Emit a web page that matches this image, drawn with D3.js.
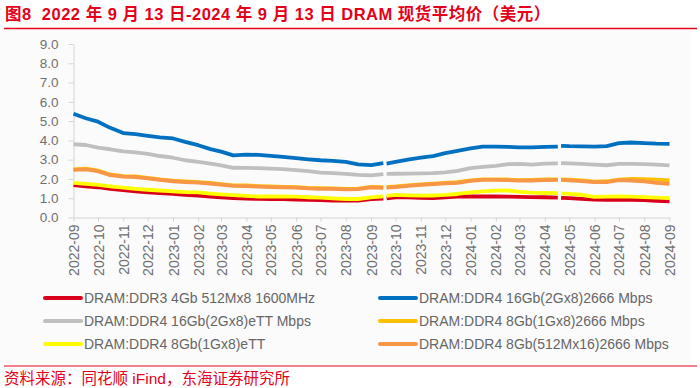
<!DOCTYPE html>
<html>
<head>
<meta charset="utf-8">
<script src="https://cdn.jsdelivr.net/npm/d3@7"></script>
<style>
  body { margin: 0; background: #fff; }
  svg { display: block; }
  .axis text { fill: #6f6f6f; font-family: "Liberation Sans", Arial, sans-serif; }
  .axis path, .axis line { stroke: #d4d4d4; }
</style>
</head>
<body>
<svg width="700" height="388"></svg>
<script>
// half-month samples; null = break in the source series
var dates = ["2022-09-13","2022-09-28","2022-10-13","2022-10-28","2022-11-13","2022-11-28","2022-12-13","2022-12-28",
  "2023-01-13","2023-01-28","2023-02-13","2023-02-28","2023-03-13","2023-03-28","2023-04-13","2023-04-28",
  "2023-05-13","2023-05-28","2023-06-13","2023-06-28","2023-07-13","2023-07-28","2023-08-13","2023-08-28",
  "2023-09-13","2023-09-28","2023-09-30","2023-10-02","2023-10-13","2023-10-28","2023-11-13","2023-11-28",
  "2023-12-13","2023-12-28","2024-01-13","2024-01-28","2024-02-13","2024-02-28","2024-03-13","2024-03-28",
  "2024-04-13","2024-04-29","2024-05-01","2024-05-03","2024-05-13","2024-05-28","2024-06-13","2024-06-28",
  "2024-07-13","2024-07-28","2024-08-13","2024-08-28","2024-09-13"];

var ddr3_4gb = [1.68,1.62,1.57,1.48,1.42,1.36,1.30,1.26,1.23,1.18,1.13,1.08,1.04,1.00,0.98,0.97,
  0.96,0.95,0.93,0.91,0.90,0.88,0.88,0.88,0.95,0.98,null,0.99,1.05,1.04,1.02,1.01,
  1.04,1.08,1.09,1.09,1.10,1.08,1.07,1.06,1.05,1.03,null,1.02,1.00,0.97,0.93,0.92,
  0.93,0.92,0.90,0.87,0.84];
var ddr4_16gb_2666 = [5.38,5.15,4.97,4.65,4.38,4.32,4.24,4.16,4.10,3.92,3.75,3.55,3.42,3.22,3.26,3.25,
  3.20,3.14,3.08,3.02,2.97,2.94,2.88,2.76,2.72,2.82,null,2.80,2.88,3.00,3.10,3.18,
  3.34,3.45,3.58,3.68,3.68,3.66,3.64,3.64,3.66,3.68,null,3.72,3.70,3.69,3.68,3.70,
  3.86,3.89,3.86,3.83,3.82];
var ddr4_16gb_ett = [3.80,3.76,3.62,3.54,3.43,3.38,3.30,3.19,3.10,2.97,2.88,2.80,2.70,2.58,2.57,2.56,
  2.54,2.51,2.46,2.40,2.33,2.30,2.26,2.21,2.18,2.25,null,2.26,2.27,2.28,2.29,2.30,
  2.34,2.42,2.56,2.63,2.68,2.77,2.78,2.74,2.79,2.81,null,2.82,2.81,2.78,2.74,2.71,
  2.78,2.78,2.77,2.74,2.70];
var ddr4_8gb_2666 = [2.50,2.53,2.43,2.23,2.15,2.13,2.06,1.98,1.91,1.87,1.84,1.79,1.73,1.67,1.66,1.63,
  1.61,1.59,1.58,1.54,1.52,1.51,1.49,1.50,1.59,1.57,null,1.58,1.61,1.67,1.72,1.76,
  1.80,1.83,1.93,1.98,1.98,1.97,1.94,1.95,1.97,1.98,null,1.98,1.96,1.92,1.86,1.88,
  1.97,2.00,1.99,1.96,1.93];
var ddr4_8gb_ett = [1.80,1.74,1.69,1.62,1.55,1.49,1.44,1.40,1.36,1.32,1.30,1.24,1.20,1.16,1.12,1.09,
  1.09,1.09,1.08,1.05,1.03,0.99,0.96,0.96,1.04,1.10,null,1.12,1.17,1.15,1.13,1.14,
  1.17,1.22,1.30,1.35,1.39,1.40,1.33,1.29,1.27,1.26,null,1.25,1.23,1.18,1.07,1.08,
  1.09,1.08,1.06,1.03,1.00];
var ddr4_8gb_512 = [2.47,2.50,2.40,2.20,2.12,2.10,2.03,1.95,1.88,1.84,1.81,1.76,1.70,1.64,1.63,1.60,
  1.58,1.56,1.55,1.51,1.49,1.48,1.46,1.47,1.56,1.54,null,1.55,1.58,1.64,1.69,1.73,
  1.77,1.80,1.90,1.95,1.95,1.94,1.91,1.92,1.94,1.95,null,1.95,1.93,1.89,1.83,1.84,
  1.94,1.92,1.87,1.80,1.74];

var seriesNames = ["DRAM:DDR3 4Gb 512Mx8 1600MHz","DRAM:DDR4 16Gb(2Gx8)2666 Mbps",
  "DRAM:DDR4 16Gb(2Gx8)eTT Mbps","DRAM:DDR4 8Gb(1Gx8)2666 Mbps",
  "DRAM:DDR4 8Gb(1Gx8)eTT","DRAM:DDR4 8Gb(512Mx16)2666 Mbps"];
var seriesValues = [ddr3_4gb, ddr4_16gb_2666, ddr4_16gb_ett, ddr4_8gb_2666, ddr4_8gb_ett, ddr4_8gb_512];
var seriesColors = ["#d9001b","#0070c0","#bfbfbf","#ffc000","#ffff00","#f79646"];

var tickMonths = ["2022-09","2022-10","2022-11","2022-12","2023-01","2023-02","2023-03","2023-04","2023-05",
  "2023-06","2023-07","2023-08","2023-09","2023-10","2023-11","2023-12","2024-01","2024-02","2024-03",
  "2024-04","2024-05","2024-06","2024-07","2024-08","2024-09"];
var yTicks = [0,1,2,3,4,5,6,7,8,9];

var svg = d3.select("svg");
var parseDay = d3.timeParse("%Y-%m-%d");
var days = dates.map(parseDay);
var tickDates = tickMonths.map(function(m) { return parseDay(m + "-13"); });

var x = d3.scaleTime().domain([days[0], days[days.length - 1]]).range([73.5, 669.5]);
var y = d3.scaleLinear().domain([0, 9]).range([217.5, 44]);

svg.append("rect").attr("x", 0).attr("y", 30).attr("width", 691).attr("height", 333).attr("fill", "#fbfbfb");

// title
svg.append("text")
  .attr("x", 5).attr("y", 20)
  .attr("fill", "#e5001a")
  .style("font-family", "'Liberation Sans', 'Noto Sans CJK SC', sans-serif")
  .style("font-weight", "bold")
  .style("font-size", "16.5px")
  .style("letter-spacing", "0.5px")
  .style("white-space", "pre")
  .text("图8  2022 年 9 月 13 日-2024 年 9 月 13 日 DRAM 现货平均价（美元）");
svg.append("line").attr("x1", 4).attr("x2", 697).attr("y1", 28.5).attr("y2", 28.5)
  .attr("stroke", "#e5001a").attr("stroke-width", 1.5);

// axes
svg.append("g").attr("class", "axis")
  .attr("transform", "translate(73.5,0)")
  .call(d3.axisLeft(y).tickValues(yTicks).tickFormat(d3.format(".1f")).tickSize(5).tickSizeOuter(0).tickPadding(10))
  .selectAll("text").style("font-size", "13.5px");

var xg = svg.append("g").attr("class", "axis")
  .attr("transform", "translate(0,217.5)")
  .call(d3.axisBottom(x).tickValues(tickDates).tickFormat(d3.timeFormat("%Y-%m")).tickSize(4).tickSizeOuter(0));
xg.selectAll("text")
  .style("font-size", "14px")
  .attr("text-anchor", "end")
  .attr("transform", "rotate(-90)")
  .attr("x", -7).attr("y", 0).attr("dy", "0.36em");

// lines
var line = d3.line()
  .defined(function(d) { return d.v != null; })
  .x(function(d) { return x(d.t); })
  .y(function(d) { return y(d.v); });

seriesValues.forEach(function(vals, i) {
  var pts = vals.map(function(v, j) { return { t: days[j], v: v }; });
  svg.append("path")
    .datum(pts)
    .attr("fill", "none")
    .attr("stroke", seriesColors[i])
    .attr("stroke-width", 3.8)
    .attr("stroke-linejoin", "round")
    .attr("d", line);
});

// legend
var legendX = [45, 380];
var legendY = [298, 321, 344];
seriesNames.forEach(function(name, i) {
  var lx = legendX[i % 2], ly = legendY[Math.floor(i / 2)];
  var g = svg.append("g").attr("transform", "translate(" + lx + "," + ly + ")");
  g.append("line").attr("x1", 0).attr("x2", 36).attr("y1", 0).attr("y2", 0)
    .attr("stroke", seriesColors[i]).attr("stroke-width", 4).attr("stroke-linecap", "round");
  g.append("text").attr("x", 39).attr("dy", "0.36em")
    .attr("fill", "#666")
    .style("font-family", "'Liberation Sans', Arial, sans-serif")
    .style("font-size", "14px")
    .text(name);
});

// source
svg.append("line").attr("x1", 4).attr("x2", 697).attr("y1", 366).attr("y2", 366)
  .attr("stroke", "#e5001a").attr("stroke-width", 1);
svg.append("text")
  .attr("x", 4).attr("y", 384)
  .attr("fill", "#e5001a")
  .style("font-family", "'Liberation Sans', 'Noto Sans CJK SC', sans-serif")
  .style("font-size", "15.5px")
  .text("资料来源：同花顺 iFind，东海证券研究所");
</script>
</body>
</html>
